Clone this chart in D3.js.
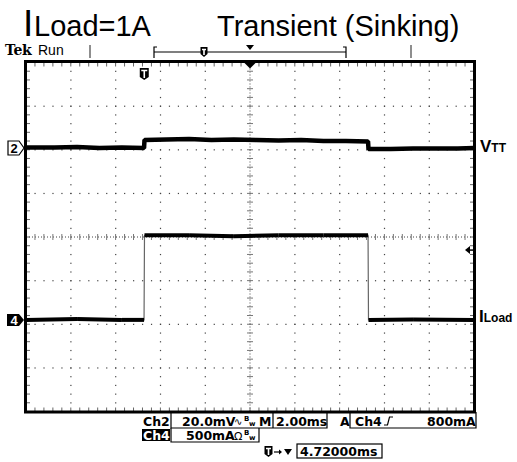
<!DOCTYPE html>
<html>
<head>
<meta charset="utf-8">
<script src="https://cdn.jsdelivr.net/npm/d3@7"></script>
<style>
body { margin: 0; background: #fff; }
svg { display: block; }
</style>
</head>
<body>
<div id="scope"></div>
<script>
// scope trace readings (time in ms from trigger)
const ch2Time = [-5.28, -4, -3, -2, -1, -0.01, 0.01, 1, 2, 3, 4, 5, 6, 7, 8, 9, 9.99, 10.01, 11, 12, 13, 14, 14.72];
const ch2Mv   = [0.2, 0.2, 0.5, 0, 0.2, 0, 3.7, 3.9, 4.1, 3.7, 3.9, 3.7, 3.4, 3.7, 3.2, 3.2, 3.0, -0.5, -0.5, -0.2, -0.2, -0.2, 0];
const ch4Time = [-5.28, -3, -1, -0.01, 0.01, 2, 4, 6, 8, 9.99, 10.01, 12, 14.72];
const ch4Amp  = [0, 0.01, 0, 0, 0.97, 0.97, 0.96, 0.97, 0.97, 0.97, 0, 0.005, 0];

// scope settings
const timeStart = -5.28;   // ms at left edge
const msPerDiv = 2;
const ch2Scale = 20;       // mV/div
const ch2Offset = 2.04;    // div
const ch4Scale = 0.5;      // A/div
const ch4Offset = -1.9;    // div
const trigLevel = 0.8;     // A

const width = 517, height = 462;
const plot = {left: 26, right: 474, top: 62.5, bottom: 411.5};

let svg = d3.select("#scope")
    .append("svg")
    .attr("width", width)
    .attr("height", height)
    .style("font-family", "'Liberation Sans', Arial, sans-serif");

let xDiv = d3.scaleLinear().domain([-5, 5]).range([plot.left, plot.right]);
let yDiv = d3.scaleLinear().domain([-4, 4]).range([plot.bottom, plot.top]);
let x = d3.scaleLinear().domain([timeStart, timeStart + 10 * msPerDiv]).range([plot.left, plot.right]);
let ch2Y = function(mv) { return yDiv(ch2Offset + mv / ch2Scale); };
let ch4Y = function(a) { return yDiv(ch4Offset + a / ch4Scale); };

// graticule
let grid = svg.append("g");
let minorY = d3.range(-20, 21).map(function(s) { return s / 5; });
let minorX = d3.range(-25, 26).map(function(s) { return s / 5; });

d3.range(-4, 5).filter(function(k) { return k != 0; }).forEach(function(k) {
    grid.selectAll(null).data(minorY).enter().append("rect")
        .attr("x", xDiv(k) - 0.5).attr("y", function(d) { return yDiv(d) - 0.5; })
        .attr("width", 1.2).attr("height", 1.2).attr("fill", "#444");
});
d3.range(-3, 4).filter(function(k) { return k != 0; }).forEach(function(k) {
    grid.selectAll(null).data(minorX).enter().append("rect")
        .attr("x", function(d) { return xDiv(d) - 0.5; }).attr("y", yDiv(k) - 0.5)
        .attr("width", 1.2).attr("height", 1.2).attr("fill", "#444");
});

// centre lines with cross ticks
grid.append("line").attr("x1", plot.left).attr("x2", plot.right)
    .attr("y1", yDiv(0)).attr("y2", yDiv(0))
    .attr("stroke", "#444").attr("stroke-dasharray", "1,2");
grid.append("line").attr("x1", xDiv(0)).attr("x2", xDiv(0))
    .attr("y1", plot.top).attr("y2", plot.bottom)
    .attr("stroke", "#444").attr("stroke-dasharray", "1,2");
grid.selectAll(null).data(minorX).enter().append("line")
    .attr("x1", function(d) { return xDiv(d); }).attr("x2", function(d) { return xDiv(d); })
    .attr("y1", yDiv(0) - 3).attr("y2", yDiv(0) + 3).attr("stroke", "#777");
grid.selectAll(null).data(minorY).enter().append("line")
    .attr("y1", function(d) { return yDiv(d); }).attr("y2", function(d) { return yDiv(d); })
    .attr("x1", xDiv(0) - 3).attr("x2", xDiv(0) + 3).attr("stroke", "#777");

// edge ticks
[[plot.left, 4], [plot.right, -4]].forEach(function(e) {
    grid.selectAll(null).data(minorY).enter().append("line")
        .attr("y1", function(d) { return yDiv(d); }).attr("y2", function(d) { return yDiv(d); })
        .attr("x1", e[0]).attr("x2", e[0] + e[1]).attr("stroke", "#666");
});
[[plot.top, 4], [plot.bottom, -4]].forEach(function(e) {
    grid.selectAll(null).data(minorX).enter().append("line")
        .attr("x1", function(d) { return xDiv(d); }).attr("x2", function(d) { return xDiv(d); })
        .attr("y1", e[0]).attr("y2", e[0] + e[1]).attr("stroke", "#666");
});

// traces
let ch2Data = ch2Time.map(function(t, i) { return [x(t), ch2Y(ch2Mv[i])]; });
let ch4Data = ch4Time.map(function(t, i) { return [x(t), ch4Y(ch4Amp[i])]; });
let line = d3.line();

svg.append("path").attr("d", line(ch2Data))
    .attr("fill", "none").attr("stroke", "#000").attr("stroke-width", 4.5)
    .attr("stroke-linejoin", "bevel");

svg.append("path").attr("d", line(ch4Data))
    .attr("fill", "none").attr("stroke", "#666").attr("stroke-width", 1.2);
svg.selectAll(null)
    .data(d3.pairs(ch4Data).filter(function(p) { return Math.abs(p[1][1] - p[0][1]) < 5; }))
    .enter().append("line")
    .attr("x1", function(p) { return p[0][0]; }).attr("y1", function(p) { return p[0][1]; })
    .attr("x2", function(p) { return p[1][0]; }).attr("y2", function(p) { return p[1][1]; })
    .attr("stroke", "#000").attr("stroke-width", 4);

// frame
svg.append("rect")
    .attr("x", plot.left - 0.5).attr("y", plot.top - 1)
    .attr("width", plot.right - plot.left + 1).attr("height", plot.bottom - plot.top + 1.5)
    .attr("fill", "none").attr("stroke", "#000").attr("stroke-width", 3);

// trigger position marker on top edge + T icon
let cx = xDiv(0);
svg.append("path").attr("d", `M${cx - 6},${plot.top} L${cx + 6},${plot.top} L${cx},${plot.top + 6} Z`).attr("fill", "#000");

function tIcon(g, px, py, w, h) {
    g.append("path")
        .attr("d", `M${px - w / 2},${py} H${px + w / 2} V${py + h - 3} L${px},${py + h} L${px - w / 2},${py + h - 3} Z`)
        .attr("fill", "#000");
    g.append("path")
        .attr("d", `M${px - w / 2 + 1.5},${py + 2.5} H${px + w / 2 - 1.5} M${px},${py + 2.5} V${py + h - 2}`)
        .attr("stroke", "#fff").attr("stroke-width", 1.6).attr("fill", "none");
}
tIcon(svg, x(0), 68, 9, 12);

// trigger level arrow
let ty = ch4Y(trigLevel);
svg.append("path").attr("d", `M465,${ty} L470,${ty - 4} L470,${ty + 4} Z`).attr("fill", "#000");
svg.append("line").attr("x1", 469).attr("x2", 474).attr("y1", ty).attr("y2", ty)
    .attr("stroke", "#000").attr("stroke-width", 1.5);

// channel ground markers
let m2 = ch2Y(0), m4 = ch4Y(0);
svg.append("path").attr("d", `M8,${m2 - 7} H19 L24,${m2} L19,${m2 + 7} H8 Z`)
    .attr("fill", "#fff").attr("stroke", "#000").attr("stroke-width", 1.2);
svg.append("text").attr("x", 14).attr("y", m2 + 5).attr("text-anchor", "middle")
    .style("font-size", "13px").style("font-weight", "bold").text("2");
svg.append("path").attr("d", `M7,${m4 - 6} H19 L24,${m4} L19,${m4 + 6} H7 Z`).attr("fill", "#000");
svg.append("text").attr("x", 14).attr("y", m4 + 5).attr("text-anchor", "middle")
    .attr("fill", "#fff").style("font-size", "13px").style("font-weight", "bold").text("4");

// right labels
let vtt = svg.append("text").attr("x", 480).attr("y", m2 + 4).style("font-weight", "bold");
vtt.append("tspan").style("font-size", "17px").text("V");
vtt.append("tspan").style("font-size", "12px").text("TT");
let il = svg.append("text").attr("x", 479).attr("y", m4 + 2).style("font-weight", "bold");
il.append("tspan").style("font-size", "17px").text("I");
il.append("tspan").style("font-size", "12px").text("Load");

// title
svg.append("text").attr("x", 23).attr("y", 36).style("font-size", "37px").text("I");
svg.append("text").attr("x", 34).attr("y", 36).style("font-size", "29px").text("Load=1A");
svg.append("text").attr("x", 217).attr("y", 36).style("font-size", "29px").text("Transient (Sinking)");

// status bar
svg.append("text").attr("x", 5).attr("y", 55)
    .style("font-family", "'DejaVu Serif', serif").style("font-weight", "bold")
    .style("font-size", "14px").style("letter-spacing", "-0.3px").text("Tek");
svg.append("text").attr("x", 38).attr("y", 55).style("font-size", "14px").text("Run");

let bar = svg.append("g").attr("stroke", "#444").attr("fill", "none").attr("stroke-width", 1.2);
bar.append("path").attr("d", "M90,45 V58 M411,45 V58");
bar.append("path").attr("d", "M157,47 H154 V58 M343,47 H346 V58 M154,52 H346").attr("stroke", "#000");
svg.append("path").attr("d", "M246,45 L254,45 L250,50 Z").attr("fill", "#000");
tIcon(svg, 204, 47, 7, 10);

// readouts
let inv = svg.append("g");
let ro = svg.append("g")
    .style("font-family", "'DejaVu Sans', sans-serif")
    .style("font-size", "12.5px").style("font-weight", "bold");
let box = svg.append("g").attr("stroke", "#000").attr("fill", "none").attr("stroke-width", 1.2);

box.append("path").attr("d", "M171,412 V428 H327 V412 M273,412 V428 M350,412 V428 H476 V412");
ro.append("text").attr("x", 143).attr("y", 426).text("Ch2");
ro.append("text").attr("x", 182).attr("y", 426).text("20.0mV");
ro.append("text").attr("x", 234).attr("y", 425).style("font-size", "10px").style("font-weight", "normal").text("∿");
ro.append("text").attr("x", 244).attr("y", 421).style("font-size", "7px").text("B");
ro.append("text").attr("x", 249).attr("y", 426).style("font-size", "7px").text("w");
ro.append("text").attr("x", 259).attr("y", 426).text("M");
ro.append("text").attr("x", 276).attr("y", 426).text("2.00ms");
ro.append("text").attr("x", 340).attr("y", 426).text("A");
ro.append("text").attr("x", 355).attr("y", 426).text("Ch4");
box.append("path").attr("d", "M384,425 H387.5 L389.5,417 H393");
ro.append("text").attr("x", 427).attr("y", 426).text("800mA");

inv.append("rect").attr("x", 142).attr("y", 429).attr("width", 28).attr("height", 12).attr("fill", "#000");
ro.append("text").attr("x", 143).attr("y", 440).attr("fill", "#fff").text("Ch4");
box.append("path").attr("d", "M171,428 V442 H259 V428");
ro.append("text").attr("x", 186).attr("y", 440).text("500mA");
ro.append("text").attr("x", 234).attr("y", 440).style("font-size", "11px").style("font-weight", "normal").text("Ω");
ro.append("text").attr("x", 244).attr("y", 435).style("font-size", "7px").text("B");
ro.append("text").attr("x", 249).attr("y", 440).style("font-size", "7px").text("w");

tIcon(svg, 268.5, 446, 8, 11);
svg.append("line").attr("x1", 274).attr("x2", 281).attr("y1", 452).attr("y2", 452).attr("stroke", "#000").attr("stroke-width", 1.2);
svg.append("path").attr("d", "M279,449.5 L282,452 L279,454.5 Z").attr("fill", "#000");
svg.append("path").attr("d", "M284,449 L292,449 L288,455 Z").attr("fill", "#000");
box.append("rect").attr("x", 297).attr("y", 444).attr("width", 85).attr("height", 14);
ro.append("text").attr("x", 300).attr("y", 456).text("4.72000ms");
</script>
</body>
</html>
